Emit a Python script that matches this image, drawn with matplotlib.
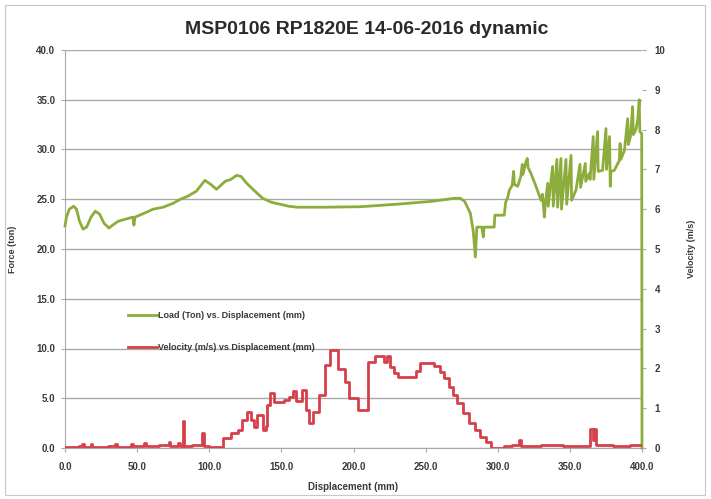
import matplotlib
matplotlib.use("Agg")
import matplotlib.pyplot as plt
from matplotlib.patches import Rectangle
from matplotlib.ticker import FuncFormatter

plt.rcParams['font.family'] = ['Liberation Sans Narrow', 'Liberation Sans', 'DejaVu Sans']

title = "MSP0106 RP1820E 14-06-2016 dynamic"
x_label = "Displacement (mm)"
left_label = "Force (ton)"
right_label = "Velocity (m/s)"
load_label = "Load (Ton) vs. Displacement (mm)"
vel_label = "Velocity (m/s) vs Displacement (mm)"

load_x = [0, 1, 3, 6, 8, 10, 12.5, 15, 18, 21, 24, 27, 30.5, 33, 37, 42, 47, 47.8, 48.5, 55,
          61, 68, 75, 80, 85, 91, 97, 101, 105, 108, 111, 115, 119, 122, 126, 131, 137, 143,
          149, 155, 161, 180, 205, 230, 255, 270, 274, 277, 279, 281, 283, 284.5, 285.5, 289,
          290, 290.5, 297.5, 298, 304.5, 305.5, 307, 308, 310, 311, 311.5, 313.8, 316, 317,
          317.5, 319.6, 320.5, 321, 323, 326.5, 330, 331, 332.3, 333, 334.6, 335, 338, 338.5,
          341, 341.5, 343.8, 344.2, 347.3, 347.8, 350.8, 351.2, 354.2, 357, 357.4, 360.7, 361,
          363.4, 364, 366.2, 366.6, 369.2, 369.6, 372.7, 375, 375.4, 377.5, 378, 378.5, 380.8,
          384.3, 384.8, 385.3, 387.8, 390.1, 390.5, 392, 393.5, 394, 395.8, 397, 398.1, 398.5,
          399.8, 400]
load_y = [22.3, 23.2, 24.0, 24.3, 24.0, 22.8, 22.0, 22.2, 23.2, 23.8, 23.5, 22.6, 22.1, 22.4,
          22.8, 23.0, 23.2, 22.4, 23.2, 23.6, 24.0, 24.2, 24.6, 25.0, 25.3, 25.8, 26.9, 26.5,
          26.0, 26.4, 26.8, 27.0, 27.4, 27.3, 26.6, 25.9, 25.1, 24.7, 24.5, 24.3, 24.2, 24.2,
          24.25, 24.5, 24.8, 25.1, 25.1, 24.8, 24.2, 23.6, 21.8, 19.2, 22.2, 22.2, 21.2, 22.2,
          22.2, 23.4, 23.4, 24.7, 25.2, 25.9, 26.4, 27.8, 26.5, 26.3, 27.3, 28.5, 27.5, 28.8,
          29.1, 28.2, 27.6, 26.3, 24.9, 25.5, 23.2, 24.5, 26.6, 24.3, 28.3, 24.3, 29.0, 24.2,
          29.1, 24.0, 29.0, 24.5, 29.4, 24.9, 25.9, 28.5, 26.2, 28.6, 26.8, 27.6, 27.0, 31.3,
          27.0, 31.8, 27.8, 27.9, 32.1, 28.0, 31.3, 26.3, 27.8, 27.9, 28.9, 30.6, 29.0, 29.9,
          33.1, 30.5, 31.3, 34.3, 31.5, 32.0, 33.0, 35.0, 31.8, 31.6, 0.0]

vel_x = [0, 10, 12, 13, 18, 19, 30, 35, 36, 46, 47, 55, 56, 65, 72, 73, 78, 80, 81.5, 82.5,
         88, 95, 96.5, 100, 109.5, 115, 120, 123, 126, 129, 131, 133, 137, 139, 140, 142, 145,
         152, 155, 158, 160, 164, 167, 169, 172, 176, 180, 184, 189, 194, 197, 203, 210, 215,
         221, 223, 225, 228, 231, 243, 246, 256, 260, 263, 266, 269, 272, 276, 280, 284, 288,
         292, 295, 304, 310, 315, 316, 330, 345, 364, 366, 367, 368, 380, 392, 400]
vel_y = [0.02, 0.05, 0.10, 0.03, 0.10, 0.03, 0.04, 0.10, 0.03, 0.10, 0.04, 0.12, 0.05, 0.08,
         0.15, 0.06, 0.12, 0.05, 0.69, 0.06, 0.08, 0.37, 0.05, 0.03, 0.24, 0.37, 0.45, 0.70,
         0.91, 0.70, 0.53, 0.83, 0.45, 0.55, 1.08, 1.39, 1.16, 1.20, 1.29, 1.44, 1.17, 1.46,
         0.95, 0.62, 0.91, 1.33, 2.09, 2.45, 1.98, 1.67, 1.25, 0.95, 2.17, 2.31, 2.15, 2.31,
         2.04, 1.88, 1.79, 1.93, 2.14, 2.06, 1.92, 1.75, 1.54, 1.33, 1.12, 0.87, 0.62, 0.45,
         0.28, 0.16, 0.00, 0.05, 0.08, 0.20, 0.06, 0.07, 0.06, 0.47, 0.20, 0.47, 0.08, 0.05,
         0.07, 0.07]

x_ticks = [0, 50, 100, 150, 200, 250, 300, 350, 400]
left_ticks = [0, 5, 10, 15, 20, 25, 30, 35, 40]
right_ticks = [0, 1, 2, 3, 4, 5, 6, 7, 8, 9, 10]

GREEN = '#8cad3c'
RED = '#d6404a'
GRID = '#a9a9a9'
TXT = '#3a3a3a'

fig = plt.figure(figsize=(7.11, 4.99), dpi=100)
fig.patches.append(Rectangle((5/711, 4/499), 700/711, 490/499, transform=fig.transFigure,
                             fill=False, edgecolor='#c8c8c8', linewidth=0.8))

ax = fig.add_axes([65/711, 51/499, 577/711, 398/499])
ax2 = ax.twinx()

ax.set_xlim(0, 400)
ax.set_ylim(0, 40)
ax2.set_ylim(0, 10)
ax.set_xticks(x_ticks)
ax.set_yticks(left_ticks)
ax2.set_yticks(right_ticks)
ax.xaxis.set_major_formatter(FuncFormatter(lambda v, p: f"{v:.1f}"))
ax.yaxis.set_major_formatter(FuncFormatter(lambda v, p: f"{v:.1f}"))

ax.grid(axis='y', color=GRID, linewidth=1.0)
ax.set_axisbelow(True)
for s in ['top', 'right']:
    ax.spines[s].set_visible(False)
for s in ['top', 'left', 'bottom', 'right']:
    ax2.spines[s].set_visible(False)
ax.spines['left'].set_color(GRID)
ax.spines['bottom'].set_color(GRID)

ax.tick_params(axis='y', colors=GRID, labelcolor=TXT, labelsize=7, length=3, pad=4)
ax.tick_params(axis='x', colors=GRID, labelcolor=TXT, labelsize=7, length=3, pad=7)
ax2.tick_params(axis='y', colors=GRID, labelcolor=TXT, labelsize=7, length=3, pad=6)
for lab in ax.get_xticklabels() + ax.get_yticklabels() + ax2.get_yticklabels():
    lab.set_fontweight('bold')

l1, = ax.plot(load_x, load_y, color=GREEN, linewidth=2.0, label=load_label, zorder=3,
              clip_on=False)
l2, = ax2.plot(vel_x, vel_y, color=RED, linewidth=2.0, drawstyle='steps-post',
               label=vel_label, zorder=3)
ax2.set_zorder(ax.get_zorder() + 1)
ax2.patch.set_visible(False)

leg = ax.legend(handles=[l1, l2], loc='upper left', bbox_to_anchor=(0.095, 0.365),
                frameon=False, fontsize=6.5, handlelength=3.2, handletextpad=0.1,
                labelspacing=2.6)
for t in leg.get_texts():
    t.set_color(TXT)
    t.set_fontweight('bold')
leg.set_zorder(10)

ax.set_xlabel(x_label, fontsize=7, fontweight='bold', color=TXT, labelpad=7)
ax.set_ylabel(left_label, fontsize=6.5, fontweight='bold', color=TXT, labelpad=14)
ax2.set_ylabel(right_label, fontsize=6.5, fontweight='bold', color=TXT, rotation=90, labelpad=16)

fig.text(367/711, 1 - 30/499, title, ha='center', va='center', fontsize=14,
         fontweight='bold', color='#2a2a2a')

fig.savefig('out.png', dpi=100)
